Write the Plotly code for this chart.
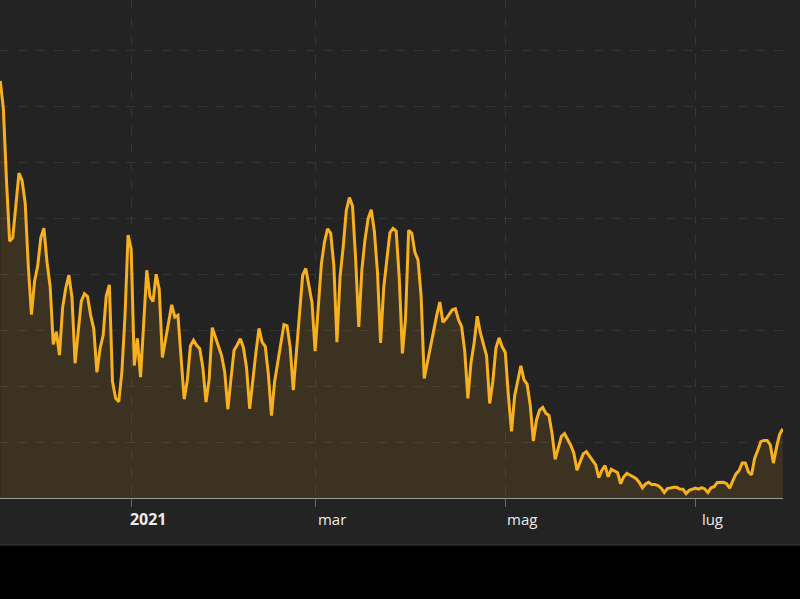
import pandas as pd
import plotly.graph_objects as go

# Daily new cases (20 Nov 2020 - 29 Jul 2021)
nov_2020 = [37242, 34767, 28337, 22930, 23232, 25853, 29003, 28352, 26323, 20648, 16377]
dec_2020 = [19350, 20709, 23225, 24099, 21052, 18887, 13720, 14842, 12756, 16999, 18727,
            19903, 17938, 12030, 14844, 17572, 18236, 17992, 16308, 15104, 11212, 13318,
            14522, 18040, 19037, 10407, 8913, 8585, 11224, 16202, 23477]
jan_2021 = [22211, 11831, 14245, 10800, 15378, 20331, 18020, 17533, 19978, 18627, 12545,
            14242, 15774, 17246, 16146, 16310, 12545, 8824, 10497, 13571, 14078, 13633,
            13331, 11629, 8561, 10593, 15204, 14372, 13574, 12715, 11252]
feb_2021 = [7925, 10630, 13189, 13659, 14218, 13442, 11641, 7970, 10680, 12956, 15146,
            13908, 13532, 11068, 7351, 10386, 12074, 13762, 15479, 15370, 13452, 9630,
            13314, 16424, 19886, 20499, 18916, 17455]
mar_2021 = [13114, 17083, 20884, 22865, 24036, 23641, 20765, 13902, 19749, 22409, 25673,
            26824, 26062, 21315, 15267, 20396, 23059, 24935, 25735, 23832, 20159, 13846,
            18765, 21267, 23696, 24076, 23839, 19611, 12916, 16017, 23904]
apr_2021 = [23649, 21932, 21261, 18025, 10680, 12000, 13400, 14900, 16300, 17500, 15700,
            16000, 16400, 16800, 16900, 15900, 15300, 13100, 8900, 12074, 13844, 16232,
            14761, 13817, 12694, 8444, 10404, 13385, 14300, 13500]
may_2021 = [13000, 9148, 5948, 9116, 10404, 11807, 10554, 10176, 8292, 5080, 6946,
            7852, 8085, 7567, 7369, 5753, 3455, 4452, 5506, 5741, 5218, 4717,
            3995, 2490, 3224, 3937, 4147, 3738, 3351, 2949, 1820]
jun_2021 = [2483, 2897, 1896, 2557, 2436, 2275, 1273, 1896, 2199, 2079, 1901,
            1723, 1390, 907, 1255, 1400, 1197, 1197, 1116, 876, 495, 835,
            927, 951, 952, 794, 778, 389, 679, 776]
jul_2021 = [882, 794, 932, 808, 480, 907, 1010, 1394, 1390, 1400, 1272,
            888, 1552, 2153, 2455, 3127, 3121, 2329, 2072, 3558, 4259, 5057,
            5143, 5140, 4743, 3117, 4522, 5696, 6171]

values = nov_2020 + dec_2020 + jan_2021 + feb_2021 + mar_2021 + apr_2021 + may_2021 + jun_2021 + jul_2021
dates = pd.date_range("2020-11-20", periods=len(values), freq="D")

tick_vals = ["2021-01-01", "2021-03-01", "2021-05-01", "2021-07-01"]
tick_text = ["<b><span style='font-size:16px'>2021</span></b>", "mar", "mag", "lug"]

BG = "#232323"
LINE = "#f7b01f"

fig = go.Figure()
fig.add_trace(go.Scatter(
    x=dates, y=values, mode="lines",
    line=dict(color=LINE, width=3),
    fill="tozeroy", fillcolor="rgba(245,168,30,0.12)",
    hoverinfo="skip", showlegend=False,
))

fig.update_layout(
    width=800, height=599,
    margin=dict(l=0, r=17, t=0, b=101),
    paper_bgcolor=BG, plot_bgcolor=BG,
    font=dict(family="Open Sans, Arial, sans-serif", color="#ececec"),
    showlegend=False,
    shapes=[dict(type="rect", xref="paper", yref="paper",
                 x0=-0.05, x1=1.1, y0=-0.3, y1=-0.0944,
                 fillcolor="#000000", line=dict(color="#3a3a3a", width=1),
                 layer="below")],
)
fig.update_xaxes(
    range=["2020-11-19 22:00", "2021-07-29 02:00"],
    tickvals=tick_vals, ticktext=tick_text,
    tickfont=dict(size=15, color="#ececec"),
    ticklabelshift=17,
    ticks="outside", ticklen=8, tickcolor="#6a6a6a", tickwidth=1,
    showline=True, linecolor="#9a9a9a", linewidth=1,
    showgrid=True, gridcolor="#353535", gridwidth=1, griddash="dash",
    zeroline=False,
)
fig.update_yaxes(
    range=[0, 44464],
    tickvals=[0, 5000, 10000, 15000, 20000, 25000, 30000, 35000, 40000],
    showticklabels=False,
    showgrid=True, gridcolor="#353535", gridwidth=1, griddash="dash",
    zeroline=False,
)

fig.write_html("out.html", config={"displayModeBar": False},
               post_script="document.body.style.margin='0px';")
